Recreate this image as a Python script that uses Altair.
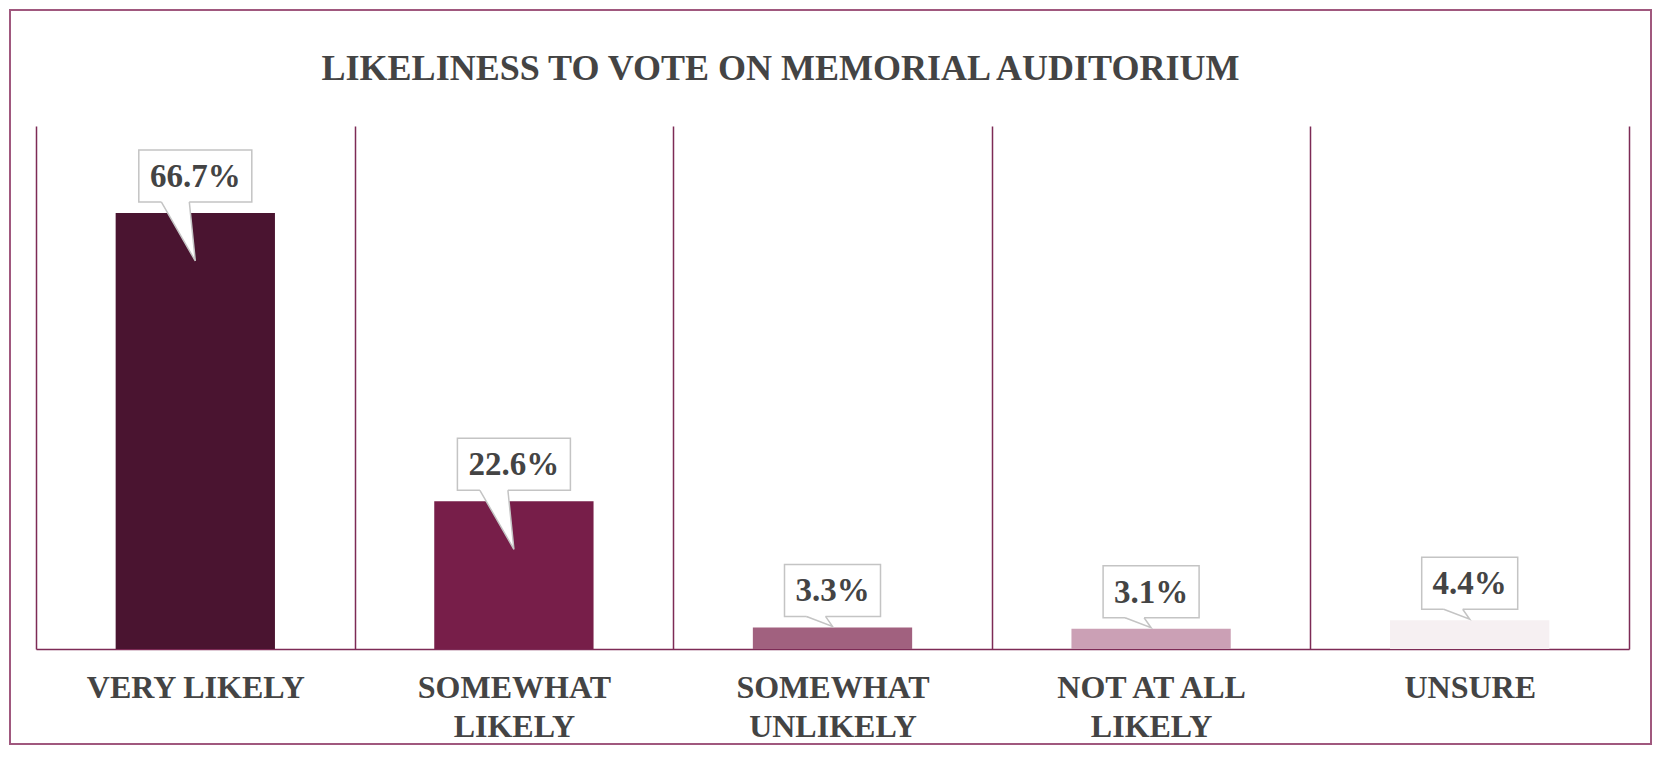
import altair as alt
import pandas as pd

# ---- data ----
categories = ["VERY LIKELY", "SOMEWHAT\nLIKELY", "SOMEWHAT\nUNLIKELY", "NOT AT ALL\nLIKELY", "UNSURE"]
values = [66.7, 22.6, 3.3, 3.1, 4.4]
value_labels = ["66.7%", "22.6%", "3.3%", "3.1%", "4.4%"]
bar_colors = ["#4a1430", "#771e49", "#a1617f", "#cba0b5", "#f6f0f2"]
title_text = "LIKELINESS TO VOTE ON MEMORIAL AUDITORIUM"

df = pd.DataFrame({"category": categories, "value": values, "label": value_labels})

# ---- styling ----
FONT = "Liberation Serif"
TEXT = "#444444"
LINE = "#7d2b56"
FRAME = "#a0587e"
BOX = "#c4c4c4"
W, H = 1593, 523
PAD = {"left": 28, "top": 118, "right": 24, "bottom": 97}

BIG_FILL = "M -34 -2 L -34 0 L 0 59 L -6 0 L -6 -2 Z"
BIG_STROKE = "M -34 0 L 0 59 L -6 0"
SMALL_FILL = "M -26 -2 L -26 0 L 0 10 L -7 0 L -7 -2 Z"
SMALL_STROKE = "M -26 0 L 0 10 L -7 0"

x = alt.X(
    "category:N",
    sort=categories,
    scale=alt.Scale(paddingInner=0, paddingOuter=0),
    axis=alt.Axis(
        title=None,
        labelAngle=0,
        tickBand="extent",
        grid=True,
        gridColor=LINE,
        gridWidth=1.5,
        gridOpacity=1,
        domainColor=LINE,
        domainWidth=1.5,
        ticks=False,
        labelExpr="split(datum.label, '\\n')",
        labelFont=FONT,
        labelFontSize=32,
        labelFontWeight="bold",
        labelColor=TEXT,
        labelPadding=48,
        labelBaseline="alphabetic",
        labelLineHeight=39,
        labelLimit=0,
    ),
)
y = alt.Y("value:Q", scale=alt.Scale(domain=[0, 80]), axis=None)

base = alt.Chart(df)

frame = alt.Chart(pd.DataFrame({"k": [0]})).mark_rect(
    fill="transparent", stroke=FRAME, strokeWidth=2
).encode(
    x=alt.value(-PAD["left"] + 2),
    x2=alt.value(W + PAD["right"] - 2),
    y=alt.value(-PAD["top"] + 2),
    y2=alt.value(H + PAD["bottom"] - 2),
)

bars = base.mark_bar(width=alt.RelativeBandSize(0.5)).encode(
    x=x,
    y=y,
    color=alt.Color(
        "category:N",
        sort=categories,
        scale=alt.Scale(domain=categories, range=bar_colors),
        legend=None,
    ),
)

boxes = base.mark_bar(
    fill="white", stroke=BOX, strokeWidth=1.5, yOffset=-63, y2Offset=-11
).encode(
    x=x,
    y=y,
    y2=alt.Y2("value:Q"),
    size=alt.condition("length(datum.label) >= 5", alt.value(113), alt.value(96)),
)

pointer_fill = base.mark_point(
    filled=True, fill="white", strokeWidth=0, opacity=1, size=4, yOffset=-11
).encode(
    x=x,
    y=y,
    shape=alt.condition("datum.value >= 10", alt.value(BIG_FILL), alt.value(SMALL_FILL)),
)

pointer_stroke = base.mark_point(
    filled=False, stroke=BOX, strokeWidth=1.5, opacity=1, size=4, yOffset=-11
).encode(
    x=x,
    y=y,
    shape=alt.condition("datum.value >= 10", alt.value(BIG_STROKE), alt.value(SMALL_STROKE)),
)

texts = base.mark_text(
    font=FONT, fontSize=33, fontWeight="bold", color=TEXT, baseline="alphabetic", yOffset=-26
).encode(x=x, y=y, text="label:N")

chart = (
    alt.layer(frame, bars, boxes, pointer_fill, pointer_stroke, texts)
    .properties(
        width=W,
        height=H,
        padding=PAD,
        autosize=alt.AutoSizeParams(type="none"),
        title=alt.Title(
            title_text,
            font=FONT,
            fontSize=36,
            fontWeight="bold",
            color=TEXT,
            anchor="middle",
            dx=-52,
            dy=151,
            offset=44,
            baseline="alphabetic",
        ),
    )
    .configure_view(strokeWidth=0)
)

chart.save("out.html", embed_options={"renderer": "svg", "actions": False})
